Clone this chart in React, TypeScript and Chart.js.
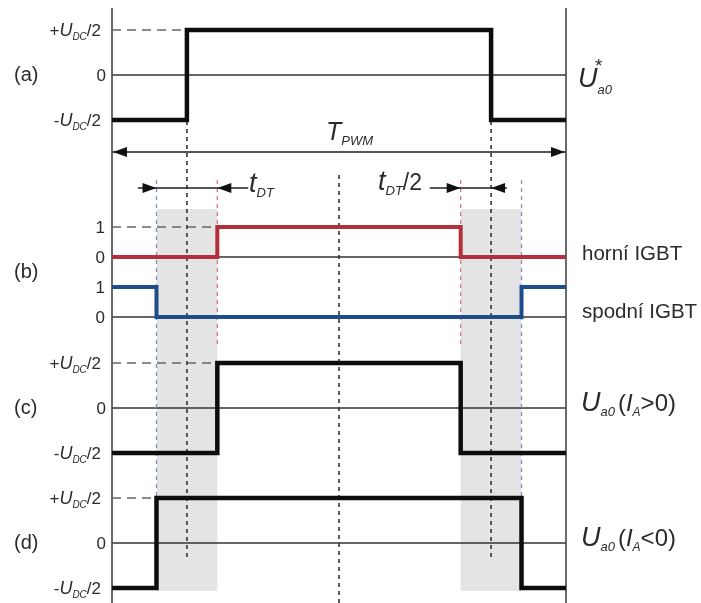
import React, { useEffect, useRef } from 'react';
import { Chart, registerables } from 'chart.js';
Chart.register(...registerables);

// ---------- data (time in % of one PWM period) ----------
const periodStart = 0;
const periodEnd = 100;
const centerTime = 50;
const refSwitchTimes = [0, 16.5, 83.5, 100];
const refLevels = [-1, 1, -1, -1];
const upperSwitchTimes = [0, 23.2, 76.8, 100];
const upperLevels = [0, 1, 0, 0];
const lowerSwitchTimes = [0, 9.8, 90.2, 100];
const lowerLevels = [1, 0, 1, 1];
const posCurrentTimes = [0, 23.2, 76.8, 100];
const posCurrentLevels = [-1, 1, -1, -1];
const negCurrentTimes = [0, 9.8, 90.2, 100];
const negCurrentLevels = [-1, 1, -1, -1];
const deadTimeWindows = [
  [9.8, 23.2],
  [76.8, 90.2],
];
const refMarkers = [16.5, 83.5];
const upperMarkers = [23.2, 76.8];
const lowerMarkers = [9.8, 90.2];
const voltageLevels = [1, 0, -1];
const gateLevels = [1, 0];
const panelLetters = ['(a)', '(b)', '(c)', '(d)'];
const gateNames = ['horní IGBT', 'spodní IGBT'];

// ---------- layout ----------
const W = 701;
const H = 603;
const FF = '"Liberation Sans", Arial, Helvetica, sans-serif';
const rowA = { zero: 75, amp: 45 };
const rowUp = { zero: 257, amp: 30 };
const rowLo = { zero: 317, amp: 30 };
const rowC = { zero: 408, amp: 45 };
const rowD = { zero: 543, amp: 45 };
const RED = '#b3303b';
const BLUE = '#1e4d8c';
const BLACK = '#0d0d0d';

const lv = (row: { zero: number; amp: number }, level: number) => row.zero - level * row.amp;
const series = (times: number[], levels: number[], row: { zero: number; amp: number }) =>
  times.map((t, i) => ({ x: t, y: lv(row, levels[i]) }));

type Part = { t: string; size: number; italic?: boolean; dy?: number; dx?: number };

function drawRich(ctx: CanvasRenderingContext2D, x: number, y: number, parts: Part[], align: 'left' | 'right' | 'center' = 'left') {
  const font = (p: Part) => `${p.italic ? 'italic ' : ''}${p.size}px ${FF}`;
  let w = 0;
  parts.forEach((p) => {
    ctx.font = font(p);
    w += ctx.measureText(p.t).width + (p.dx || 0);
  });
  let cx = align === 'right' ? x - w : align === 'center' ? x - w / 2 : x;
  ctx.textAlign = 'left';
  ctx.textBaseline = 'alphabetic';
  parts.forEach((p) => {
    ctx.font = font(p);
    cx += p.dx || 0;
    ctx.fillText(p.t, cx, y + (p.dy || 0));
    cx += ctx.measureText(p.t).width;
  });
}

function arrowHead(ctx: CanvasRenderingContext2D, tipX: number, y: number, dir: 1 | -1) {
  const L = 14;
  const h = 5;
  ctx.beginPath();
  ctx.moveTo(tipX, y);
  ctx.lineTo(tipX - dir * L, y - h);
  ctx.lineTo(tipX - dir * L, y + h);
  ctx.closePath();
  ctx.fill();
}

const diagramPlugin = {
  id: 'diagram',
  beforeDatasetsDraw(chart: any) {
    const { ctx, scales } = chart;
    const px = (t: number) => scales.x.getPixelForValue(t);
    const py = (v: number) => scales.y.getPixelForValue(v);
    ctx.save();
    // dead-time shading
    ctx.fillStyle = '#e4e4e4';
    deadTimeWindows.forEach(([a, b]) => {
      ctx.fillRect(px(a), py(209), px(b) - px(a), py(591) - py(209));
    });
    // zero lines
    ctx.strokeStyle = '#333';
    ctx.lineWidth = 1.3;
    [rowA, rowUp, rowLo, rowC, rowD].forEach((r) => {
      ctx.beginPath();
      ctx.moveTo(px(periodStart), py(lv(r, 0)));
      ctx.lineTo(px(periodEnd), py(lv(r, 0)));
      ctx.stroke();
    });
    // axis lines
    ctx.strokeStyle = '#505050';
    ctx.lineWidth = 1.7;
    [periodStart, periodEnd].forEach((t) => {
      ctx.beginPath();
      ctx.moveTo(px(t), py(8));
      ctx.lineTo(px(t), py(603));
      ctx.stroke();
    });
    // dashed level lines
    ctx.strokeStyle = '#666';
    ctx.lineWidth = 1.5;
    ctx.setLineDash([9, 6]);
    const levelDash: [number, number][] = [
      [lv(rowA, 1), refSwitchTimes[1]],
      [lv(rowUp, 1), upperSwitchTimes[1]],
      [lv(rowC, 1), posCurrentTimes[1]],
      [lv(rowD, 1), negCurrentTimes[1]],
    ];
    levelDash.forEach(([yy, t]) => {
      ctx.beginPath();
      ctx.moveTo(px(periodStart), py(yy));
      ctx.lineTo(px(t), py(yy));
      ctx.stroke();
    });
    // vertical dashed markers
    ctx.setLineDash([4, 4]);
    const vdash = (t: number, y0: number, y1: number, color: string, lw: number) => {
      ctx.strokeStyle = color;
      ctx.lineWidth = lw;
      ctx.beginPath();
      ctx.moveTo(px(t), py(y0));
      ctx.lineTo(px(t), py(y1));
      ctx.stroke();
    };
    refMarkers.forEach((t) => vdash(t, 121, 558, '#333', 1.6));
    vdash(centerTime, 175, 603, '#333', 1.6);
    upperMarkers.forEach((t) => vdash(t, 180, 345, '#d77a86', 1.3));
    lowerMarkers.forEach((t) => vdash(t, 180, 500, '#7f8fc0', 1.3));
    ctx.setLineDash([]);
    ctx.restore();
  },
  afterDraw(chart: any) {
    const { ctx, scales } = chart;
    const px = (t: number) => scales.x.getPixelForValue(t);
    const py = (v: number) => scales.y.getPixelForValue(v);
    ctx.save();
    // T_PWM arrow
    ctx.strokeStyle = '#555';
    ctx.fillStyle = '#111';
    ctx.lineWidth = 1.8;
    const yT = py(152);
    ctx.beginPath();
    ctx.moveTo(px(periodStart), yT);
    ctx.lineTo(px(periodEnd), yT);
    ctx.stroke();
    arrowHead(ctx, px(periodStart) + 1, yT, -1);
    arrowHead(ctx, px(periodEnd) - 1, yT, 1);
    // t_DT arrows
    const yD = py(188);
    ctx.strokeStyle = '#222';
    ctx.lineWidth = 1.3;
    ctx.beginPath();
    ctx.moveTo(px(5.7), yD);
    ctx.lineTo(px(30), yD);
    ctx.moveTo(px(70), yD);
    ctx.lineTo(px(87), yD);
    ctx.stroke();
    arrowHead(ctx, px(lowerMarkers[0]), yD, 1);
    arrowHead(ctx, px(upperMarkers[0]), yD, -1);
    arrowHead(ctx, px(upperMarkers[1]), yD, 1);
    arrowHead(ctx, px(refMarkers[1]), yD, -1);

    // texts
    ctx.fillStyle = '#2b2b2b';
    const lettersY = [lv(rowA, 0), (rowUp.zero + lv(rowLo, 1)) / 2, lv(rowC, 0), lv(rowD, 0)];
    panelLetters.forEach((l, i) => drawRich(ctx, 14, py(lettersY[i]) + 6, [{ t: l, size: 20 }]));

    const vLabel = (level: number): Part[] =>
      level === 0
        ? [{ t: '0', size: 17 }]
        : [
            { t: level > 0 ? '+' : '-', size: 17 },
            { t: 'U', size: 18, italic: true },
            { t: 'DC', size: 10, italic: true, dy: 4 },
            { t: '/2', size: 17 },
          ];
    [rowA, rowC, rowD].forEach((r) => {
      voltageLevels.forEach((l) => {
        drawRich(ctx, l === 0 ? 106 : 101, py(lv(r, l)) + 6, vLabel(l), 'right');
      });
    });
    [rowUp, rowLo].forEach((r) => {
      gateLevels.forEach((l) => {
        drawRich(ctx, 105, py(lv(r, l)) + 6, [{ t: String(l), size: 17 }], 'right');
      });
    });

    // right labels
    drawRich(ctx, 578, py(87), [
      { t: 'U', size: 27, italic: true },
      { t: 'a0', size: 13, italic: true, dy: 7 },
    ]);
    drawRich(ctx, 595, py(72), [{ t: '*', size: 19 }]);
    drawRich(ctx, 582, py(260), [{ t: gateNames[0], size: 20.5 }]);
    drawRich(ctx, 582, py(318), [{ t: gateNames[1], size: 20.5 }]);
    const curLabel = (sign: string): Part[] => [
      { t: 'U', size: 27, italic: true },
      { t: 'a0', size: 13, italic: true, dy: 5 },
      { t: '(', size: 24, dx: 3 },
      { t: 'I', size: 24, italic: true },
      { t: 'A', size: 12, italic: true, dy: 5 },
      { t: sign + '0)', size: 24 },
    ];
    drawRich(ctx, 581, py(411), curLabel('>'));
    drawRich(ctx, 581, py(546), curLabel('<'));

    drawRich(ctx, 326, py(140), [
      { t: 'T', size: 25, italic: true },
      { t: 'PWM', size: 13, italic: true, dy: 5 },
    ]);
    drawRich(ctx, 249, py(192), [
      { t: 't', size: 27, italic: true },
      { t: 'DT', size: 13, italic: true, dy: 5 },
    ]);
    drawRich(ctx, 378, py(190), [
      { t: 't', size: 27, italic: true },
      { t: 'DT', size: 13, italic: true, dy: 5 },
      { t: '/2', size: 23 },
    ]);
    ctx.restore();
  },
};

export default function App() {
  const ref = useRef<HTMLCanvasElement | null>(null);
  useEffect(() => {
    if (!ref.current) return;
    const mk = (label: string, data: any[], color: string, width: number) => ({
      label,
      data,
      borderColor: color,
      backgroundColor: color,
      borderWidth: width,
      pointRadius: 0,
      stepped: true,
      fill: false,
      borderJoinStyle: 'miter' as const,
      borderCapStyle: 'butt' as const,
    });
    const chart = new Chart(ref.current, {
      type: 'line',
      data: {
        datasets: [
          mk('Ua0*', series(refSwitchTimes, refLevels, rowA), BLACK, 4.5),
          mk('horní IGBT', series(upperSwitchTimes, upperLevels, rowUp), RED, 4),
          mk('spodní IGBT', series(lowerSwitchTimes, lowerLevels, rowLo), BLUE, 4),
          mk('Ua0 (IA>0)', series(posCurrentTimes, posCurrentLevels, rowC), BLACK, 4.5),
          mk('Ua0 (IA<0)', series(negCurrentTimes, negCurrentLevels, rowD), BLACK, 4.5),
        ],
      },
      options: {
        responsive: false,
        maintainAspectRatio: false,
        devicePixelRatio: 1,
        animation: false,
        events: [],
        parsing: false as any,
        normalized: true,
        layout: { padding: { left: 112, right: W - 566, top: 0, bottom: 0 } },
        scales: {
          x: { type: 'linear', min: periodStart, max: periodEnd, display: false },
          y: { type: 'linear', min: 0, max: H, reverse: true, display: false },
        },
        plugins: { legend: { display: false }, tooltip: { enabled: false } },
      },
      plugins: [diagramPlugin],
    });
    return () => chart.destroy();
  }, []);
  return (
    <div style={{ position: 'absolute', left: 0, top: 0, width: W, height: H, background: '#fff' }}>
      <canvas ref={ref} width={W} height={H} style={{ display: 'block' }} />
    </div>
  );
}
